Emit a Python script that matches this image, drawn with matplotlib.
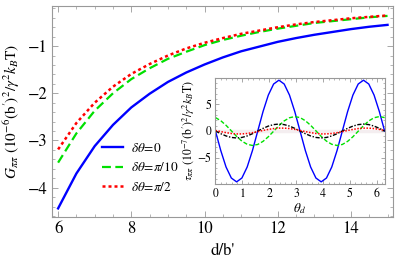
import matplotlib
matplotlib.use("Agg")
import matplotlib.pyplot as plt
import numpy as np
from matplotlib.ticker import MultipleLocator

plt.rcParams['font.family'] = ['STIXGeneral', 'DejaVu Serif']
plt.rcParams['mathtext.fontset'] = 'stix'

# main panel: G vs d/b'
d = [6, 6.5, 7, 7.5, 8, 8.5, 9, 9.5, 10, 10.5, 11, 11.5, 12, 12.5, 13, 13.5, 14, 14.5, 15]
g_0 = [-4.44, -3.70, -3.12, -2.67, -2.30, -2.01, -1.76, -1.56, -1.39, -1.24,
       -1.11, -1.01, -0.91, -0.83, -0.76, -0.70, -0.64, -0.59, -0.55]
g_pi10 = [-3.47, -2.85, -2.37, -2.00, -1.70, -1.47, -1.27, -1.12, -0.98, -0.87,
          -0.78, -0.70, -0.63, -0.57, -0.51, -0.47, -0.43, -0.39, -0.36]
g_pi2 = [-3.19, -2.63, -2.20, -1.86, -1.59, -1.38, -1.20, -1.05, -0.93, -0.83,
         -0.74, -0.67, -0.60, -0.54, -0.49, -0.45, -0.41, -0.38, -0.35]

# inset: tau vs theta_d (33 samples over 0..2pi)
theta = np.linspace(0, 2 * np.pi, 33)
tau_blue = [0, -3.64, -6.72, -8.78, -9.5, -8.78, -6.72, -3.64, 0, 3.64, 6.72, 8.78, 9.5, 8.78, 6.72, 3.64,
            0, -3.64, -6.72, -8.78, -9.5, -8.78, -6.72, -3.64, 0, 3.64, 6.72, 8.78, 9.5, 8.78, 6.72, 3.64, 0]
tau_green = [2.51, 1.93, 1.07, 0.04, -1.00, -1.89, -2.48, -2.70, -2.51, -1.93, -1.07, -0.04, 1.00, 1.89, 2.48, 2.70,
             2.51, 1.93, 1.07, 0.04, -1.00, -1.89, -2.48, -2.70, -2.51, -1.93, -1.07, -0.04, 1.00, 1.89, 2.48, 2.70, 2.51]
tau_black = [0, -0.50, -0.92, -1.20, -1.30, -1.20, -0.92, -0.50, 0, 0.50, 0.92, 1.20, 1.30, 1.20, 0.92, 0.50,
             0, -0.50, -0.92, -1.20, -1.30, -1.20, -0.92, -0.50, 0, 0.50, 0.92, 1.20, 1.30, 1.20, 0.92, 0.50, 0]
tau_red = [0.11, -0.11, -0.30, -0.46, -0.54, -0.54, -0.46, -0.31, -0.11, 0.11, 0.30, 0.46, 0.54, 0.54, 0.46, 0.31,
           0.11, -0.11, -0.30, -0.46, -0.54, -0.54, -0.46, -0.31, -0.11, 0.11, 0.30, 0.46, 0.54, 0.54, 0.46, 0.31, 0.11]

frame_col = '#999999'


def style_axes(ax, labelsize, major_len, minor_len):
    for s in ax.spines.values():
        s.set_color(frame_col)
        s.set_linewidth(0.8)
    ax.tick_params(which='both', direction='in', top=True, right=True,
                   color=frame_col, labelsize=labelsize, pad=3)
    ax.tick_params(which='major', length=major_len, width=0.6)
    ax.tick_params(which='minor', length=minor_len, width=0.5)


fig = plt.figure(figsize=(3.99, 2.61), dpi=100)
ax = fig.add_axes([0.130, 0.169, 0.855, 0.808])

ax.plot(d, g_0, color='#0000ff', lw=1.7, label=r'$\delta\theta\!=\!0$')
ax.plot(d, g_pi10, color='#00e000', lw=1.6, dashes=(4, 2), label=r'$\delta\theta\!=\!\pi/10$')
ax.plot(d, g_pi2, color='#ff0000', lw=1.8, dashes=(1.2, 1.2), label=r'$\delta\theta\!=\!\pi/2$')

ax.set_xlim(5.83, 15.15)
ax.set_ylim(-4.62, -0.15)
ax.xaxis.set_major_locator(MultipleLocator(2))
ax.xaxis.set_minor_locator(MultipleLocator(0.5))
ax.yaxis.set_major_locator(MultipleLocator(1))
ax.yaxis.set_minor_locator(MultipleLocator(0.2))
style_axes(ax, 12, 4, 2)
ax.set_xlabel("d/b'", fontsize=12)
ax.set_ylabel(r"$G_{\pi\pi}\ (10^{-6}(\mathrm{b}')^2/\gamma^2 k_B\mathrm{T})$", fontsize=11, labelpad=4)

ax.legend(loc='upper left', bbox_to_anchor=(0.12, 0.40), frameon=False, fontsize=9.5,
          handlelength=1.6, handletextpad=0.6, labelspacing=0.5, borderpad=0.2)

# inset
ins = fig.add_axes([0.540, 0.295, 0.424, 0.406])
ins.axhline(0, color='#f4eef0', lw=2.5, zorder=0)
ins.plot(theta, tau_blue, color='#0000ff', lw=1.0)
ins.plot(theta, tau_green, color='#00e000', lw=1.0, dashes=(3, 1.5))
ins.plot(theta, tau_black, color='black', lw=1.0, dashes=(3, 1.2, 1, 1.2))
ins.plot(theta, tau_red, color='#ff0000', lw=1.1, dashes=(1, 1))
ins.set_xlim(0, 2 * np.pi)
ins.set_ylim(-9.9, 9.9)
ins.xaxis.set_major_locator(MultipleLocator(1))
ins.xaxis.set_minor_locator(MultipleLocator(0.2))
ins.yaxis.set_major_locator(MultipleLocator(5))
ins.yaxis.set_minor_locator(MultipleLocator(1))
style_axes(ins, 8.5, 3, 1.5)
ins.set_xlabel(r'$\theta_d$', fontsize=9.5, labelpad=1)
ins.set_ylabel(r"$\tau_{\pi\pi}\ (10^{-7}(\mathrm{b}')^2/\gamma^2 k_B\mathrm{T})$", fontsize=8.5, labelpad=1)

fig.savefig('out.png', dpi=100)
